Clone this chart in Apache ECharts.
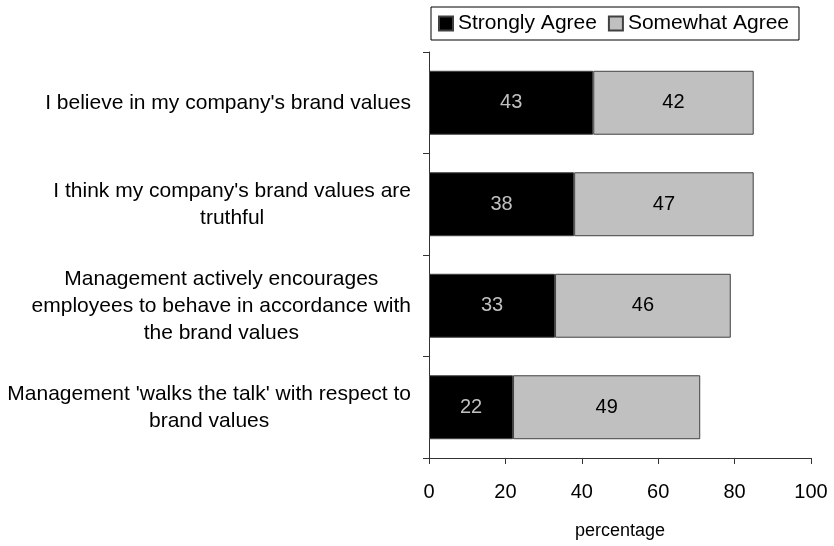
<!DOCTYPE html>
<html>
<head>
<meta charset="utf-8">
<title>Brand values survey</title>
<script src="https://cdn.jsdelivr.net/npm/echarts@6/dist/echarts.min.js"></script>
<style>
  html, body { margin: 0; padding: 0; background: #fff; }
  #chart { width: 834px; height: 546px; }
</style>
</head>
<body>
<div id="chart"></div>
<script>
// Survey statements (line breaks mark where each label wraps)
const categories = [
  "I believe in my company's brand values",
  "I think my company's brand values are\ntruthful",
  "Management actively encourages\nemployees to behave in accordance with\nthe brand values",
  "Management 'walks the talk' with respect to\nbrand values"
];

// Share of respondents, in percent
const stronglyAgree = [43, 38, 33, 22];
const somewhatAgree = [42, 47, 46, 49];

const seriesNames = ['Strongly Agree', 'Somewhat Agree'];
const xTicks = { min: 0, max: 100, step: 20 };
const xAxisTitle = 'percentage';

const FONT = "'Liberation Sans', Arial, sans-serif";

const chart = echarts.init(document.getElementById('chart'), null, { renderer: 'canvas' });

chart.setOption({
  animation: false,
  backgroundColor: '#ffffff',
  textStyle: { fontFamily: FONT },
  legend: {
    left: 431,
    top: 7,
    padding: [6, 10, 6, 7],
    itemGap: 11,
    itemWidth: 14,
    itemHeight: 14,
    icon: 'rect',
    borderColor: '#000',
    borderWidth: 1,
    textStyle: { fontSize: 21, color: '#000', fontFamily: FONT },
    data: seriesNames
  },
  grid: {
    left: 429,
    right: 23,
    top: 52,
    bottom: 88,
    outerBoundsMode: 'none'
  },
  xAxis: {
    type: 'value',
    min: xTicks.min,
    max: xTicks.max,
    interval: xTicks.step,
    name: xAxisTitle,
    nameLocation: 'middle',
    nameGap: 64,
    nameTextStyle: { fontSize: 18, color: '#000', fontFamily: FONT },
    axisLine: { show: true, lineStyle: { color: '#333', width: 1 } },
    axisTick: { show: true, length: 6, lineStyle: { color: '#333' } },
    splitLine: { show: false },
    axisLabel: { fontSize: 20, color: '#000', margin: 24, fontFamily: FONT }
  },
  yAxis: {
    type: 'category',
    inverse: true,
    data: categories,
    axisLine: { show: true, lineStyle: { color: '#333', width: 1 } },
    axisTick: { show: true, length: 6, lineStyle: { color: '#333' } },
    axisLabel: {
      margin: 18,
      fontSize: 21,
      color: '#000',
      fontFamily: FONT,
      lineHeight: 27,
      formatter: function (v) {
        return v.split('\n').map(function (l) { return '{c|' + l + '}'; }).join('\n');
      },
      rich: {
        c: { align: 'center', fontSize: 21, lineHeight: 27, color: '#000', fontFamily: FONT }
      }
    }
  },
  series: [
    {
      name: seriesNames[0],
      type: 'bar',
      stack: 'agree',
      barWidth: '63%',
      data: stronglyAgree,
      itemStyle: { color: '#000000', borderColor: '#404040', borderWidth: 1 },
      label: { show: true, position: 'inside', fontSize: 20, color: '#c0c0c0', fontFamily: FONT }
    },
    {
      name: seriesNames[1],
      type: 'bar',
      stack: 'agree',
      barWidth: '63%',
      data: somewhatAgree,
      itemStyle: { color: '#c0c0c0', borderColor: '#404040', borderWidth: 1 },
      label: { show: true, position: 'inside', fontSize: 20, color: '#000', fontFamily: FONT }
    }
  ]
});
</script>
</body>
</html>
